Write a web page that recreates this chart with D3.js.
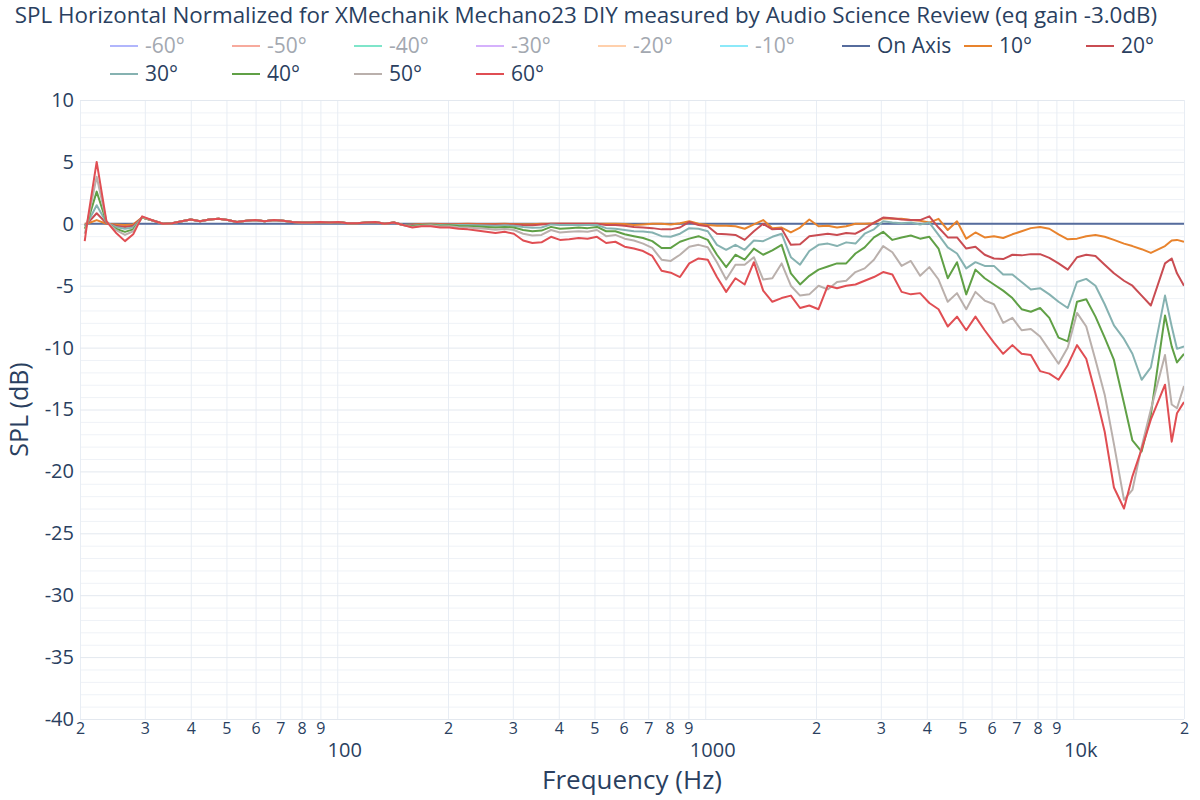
<!DOCTYPE html>
<html>
<head>
<meta charset="utf-8">
<script src="https://cdn.jsdelivr.net/npm/d3@7"></script>
<style>
  body { margin: 0; background: #fff; }
  text { font-family: "Open Sans", "DejaVu Sans", sans-serif; }
</style>
</head>
<body>
<div id="chart"></div>
<script>
// frequencies (Hz)
const freqs = [
  20.6, 20.9, 22.2, 23.6, 25.0, 26.5, 27.9, 29.5, 31.7, 33.6,
  35.6, 37.8, 40, 42.4, 44.9, 47.6, 50.4, 53.4, 56.6, 59.9,
  63.5, 67.3, 71.3, 75.5, 80, 84.8, 89.8, 95.1, 100.8, 106.8,
  113.1, 119.9, 127, 134.5, 142.5, 151, 160, 169.5, 179.6, 190.3,
  201.6, 213.6, 226.3, 239.7, 254, 269.1, 285.1, 302, 320, 339,
  359, 381, 403, 427, 453, 479, 508, 538, 570, 604,
  640, 678, 718, 761, 806, 854, 905, 959, 1016, 1076,
  1140, 1208, 1280, 1356, 1437, 1522, 1613, 1709, 1810, 1918,
  2032, 2153, 2281, 2416, 2560, 2712, 2874, 3044, 3225, 3417,
  3620, 3836, 4064, 4305, 4561, 4833, 5120, 5424, 5747, 6089,
  6451, 6834, 7241, 7671, 8127, 8611, 9123, 9665, 10240, 10849,
  11494, 12177, 12902, 13740, 14482, 15343, 16255, 17760, 18520, 19140,
  20000
];

const onAxis = [
  0, 0, 0, 0, 0, 0, 0, 0, 0, 0,
  0, 0, 0, 0, 0, 0, 0, 0, 0, 0,
  0, 0, 0, 0, 0, 0, 0, 0, 0, 0,
  0, 0, 0, 0, 0, 0, 0, 0, 0, 0,
  0, 0, 0, 0, 0, 0, 0, 0, 0, 0,
  0, 0, 0, 0, 0, 0, 0, 0, 0, 0,
  0, 0, 0, 0, 0, 0, 0, 0, 0, 0,
  0, 0, 0, 0, 0, 0, 0, 0, 0, 0,
  0, 0, 0, 0, 0, 0, 0, 0, 0, 0,
  0, 0, 0, 0, 0, 0, 0, 0, 0, 0,
  0, 0, 0, 0, 0, 0, 0, 0, 0, 0,
  0, 0, 0, 0, 0, 0, 0, 0, 0, 0,
  0
];

const deg10 = [
  0.0, 0.0, 0.3, 0.0, -0.05, -0.1, -0.05, 0.5, 0.25, 0.0,
  0.05, 0.2, 0.35, 0.2, 0.35, 0.4, 0.3, 0.15, 0.25, 0.3,
  0.2, 0.3, 0.25, 0.15, 0.1, 0.1, 0.15, 0.1, 0.15, 0.05,
  0.05, 0.1, 0.15, 0.0, 0.1, -0.1, -0.05, -0.02, 0.0, -0.02,
  -0.02, -0.02, 0.0, -0.02, -0.02, -0.02, 0.0, -0.02, -0.03, -0.03,
  0.0, 0.0, 0.0, 0.0, 0.0, 0.0, 0.0, 0.0, 0.0, -0.02,
  -0.1, -0.05, 0.0, 0.0, -0.05, 0.05, 0.2, 0.0, -0.1, -0.15,
  -0.15, -0.2, -0.4, -0.05, 0.3, -0.35, -0.3, -0.7, -0.3, 0.35,
  -0.2, -0.15, -0.3, -0.2, 0.0, 0.0, 0.05, 0.45, 0.4, 0.4,
  0.3, 0.25, 0.1, 0.4, -0.5, 0.2, -1.2, -0.7, -1.1, -1.0,
  -1.15, -0.85, -0.6, -0.35, -0.25, -0.4, -0.85, -1.25, -1.2, -1.0,
  -0.9, -1.05, -1.3, -1.6, -1.8, -2.05, -2.35, -1.8, -1.35, -1.3,
  -1.45
];

const deg20 = [
  -0.1, 0.0, 0.85, 0.05, -0.15, -0.25, -0.15, 0.5, 0.25, 0.0,
  0.05, 0.2, 0.35, 0.2, 0.35, 0.4, 0.3, 0.15, 0.25, 0.3,
  0.2, 0.3, 0.25, 0.15, 0.1, 0.1, 0.15, 0.1, 0.15, 0.05,
  0.05, 0.1, 0.15, 0.0, 0.1, -0.1, -0.1, -0.05, -0.03, -0.05,
  -0.04, -0.05, -0.05, -0.05, -0.06, -0.06, -0.05, -0.06, -0.1, -0.12,
  -0.05, 0.0, 0.0, 0.0, 0.0, 0.0, 0.0, -0.1, -0.1, -0.15,
  -0.25, -0.3, -0.35, -0.45, -0.45, -0.3, 0.15, -0.1, -0.2, -0.8,
  -0.85, -0.9, -1.3, -0.6, 0.0, -0.45, -0.4, -1.7, -1.65, -1.0,
  -0.9, -0.8, -0.9, -0.75, -0.8, -0.4, 0.1, 0.5, 0.45, 0.35,
  0.3, 0.3, 0.6, -0.3, -1.1, -1.1, -2.0, -1.85, -2.5, -2.8,
  -2.85, -2.5, -2.55, -2.45, -2.45, -2.75, -3.2, -3.7, -2.7, -2.5,
  -2.6, -3.3, -4.0, -4.6, -5.0, -5.8, -6.6, -3.2, -2.8, -4.0,
  -5.0
];

const deg30 = [
  -0.2, 0.0, 1.5, 0.1, -0.25, -0.4, -0.3, 0.5, 0.25, 0.0,
  0.05, 0.2, 0.35, 0.2, 0.35, 0.4, 0.3, 0.15, 0.25, 0.3,
  0.2, 0.3, 0.25, 0.15, 0.1, 0.1, 0.15, 0.1, 0.15, 0.05,
  0.05, 0.1, 0.15, 0.0, 0.1, -0.1, -0.15, -0.08, -0.05, -0.1,
  -0.08, -0.1, -0.1, -0.12, -0.14, -0.15, -0.12, -0.15, -0.25, -0.32,
  -0.3, -0.05, -0.1, -0.1, -0.1, -0.1, -0.1, -0.35, -0.4, -0.5,
  -0.6, -0.62, -0.7, -1.0, -1.05, -0.8, -0.35, -0.4, -0.6, -1.7,
  -2.1, -1.7, -2.1, -1.35, -1.4, -1.05, -0.8, -2.7, -3.3, -2.2,
  -1.7, -1.6, -1.8, -1.5, -1.6, -0.8, -0.45, 0.2, 0.1, 0.05,
  0.1, -0.05, 0.1, -0.9, -1.9, -2.4, -3.6, -3.1, -3.4, -3.4,
  -4.1, -4.1, -4.7, -5.3, -5.2, -5.7, -6.3, -6.8, -4.7, -4.45,
  -5.0, -6.5, -8.2, -9.3, -10.5, -12.6, -11.6, -5.8, -8.3, -10.1,
  -9.9
];

const deg40 = [
  -0.4, 0.0, 2.6, 0.15, -0.4, -0.65, -0.45, 0.5, 0.25, 0.0,
  0.05, 0.2, 0.35, 0.2, 0.35, 0.4, 0.3, 0.15, 0.25, 0.3,
  0.2, 0.3, 0.25, 0.15, 0.1, 0.1, 0.15, 0.1, 0.15, 0.05,
  0.05, 0.1, 0.15, 0.0, 0.1, -0.1, -0.2, -0.1, -0.08, -0.15,
  -0.12, -0.18, -0.2, -0.22, -0.25, -0.3, -0.25, -0.3, -0.5, -0.6,
  -0.55, -0.25, -0.4, -0.35, -0.3, -0.35, -0.25, -0.6, -0.6, -0.85,
  -1.0, -1.15, -1.4, -1.95, -1.95, -1.45, -1.2, -1.0, -1.3, -2.5,
  -3.5, -2.5, -2.9, -2.0, -2.5, -2.15, -1.7, -4.0, -4.9, -4.2,
  -3.7, -3.45, -3.2, -3.2, -2.4, -1.9, -1.1, -0.65, -1.3, -1.1,
  -0.95, -1.2, -1.05, -2.0, -4.4, -3.1, -5.7, -3.7, -4.4, -4.9,
  -5.4, -6.0, -6.9, -7.1, -6.8, -7.6, -9.2, -9.5, -6.3, -6.1,
  -7.5, -9.2, -11.0, -14.5, -17.5, -18.4, -15.4, -7.4, -9.9, -11.2,
  -10.5
];

const deg50 = [
  -0.8, 0.0, 3.8, 0.2, -0.5, -0.9, -0.6, 0.55, 0.25, 0.0,
  0.05, 0.2, 0.35, 0.2, 0.35, 0.4, 0.3, 0.15, 0.25, 0.3,
  0.2, 0.3, 0.25, 0.15, 0.1, 0.1, 0.15, 0.1, 0.15, 0.05,
  0.05, 0.1, 0.15, 0.0, 0.1, -0.1, -0.25, -0.15, -0.12, -0.22,
  -0.2, -0.28, -0.3, -0.35, -0.4, -0.48, -0.42, -0.5, -0.8, -0.95,
  -0.9, -0.5, -0.7, -0.65, -0.6, -0.65, -0.5, -1.0, -0.9, -1.2,
  -1.35, -1.6, -1.95, -2.9, -3.0, -2.5, -1.85, -1.7, -1.9, -3.1,
  -4.5, -3.3, -3.3, -2.7, -4.5, -4.4, -3.2, -5.0, -5.8, -5.7,
  -5.0, -5.3, -4.7, -4.6, -3.9, -3.6, -2.9, -1.8, -2.3, -3.4,
  -3.0, -4.2, -3.5, -4.5, -6.3, -5.6, -6.9, -5.5, -6.2, -6.5,
  -8.0, -7.6, -8.6, -8.5, -9.1, -10.2, -11.3, -10.0, -7.2, -8.3,
  -11.0, -13.8, -17.8, -22.3, -21.5, -18.0, -15.0, -10.6, -14.6, -14.9,
  -13.1
];

const deg60 = [
  -1.4, 0.0, 5.0, 0.2, -0.7, -1.4, -0.85, 0.6, 0.25, 0.0,
  0.05, 0.2, 0.35, 0.2, 0.35, 0.4, 0.3, 0.15, 0.25, 0.3,
  0.2, 0.3, 0.25, 0.15, 0.1, 0.1, 0.15, 0.1, 0.15, 0.05,
  0.05, 0.1, 0.15, 0.0, 0.1, -0.1, -0.3, -0.2, -0.2, -0.3,
  -0.3, -0.4, -0.45, -0.55, -0.65, -0.75, -0.65, -0.8, -1.35, -1.55,
  -1.5, -1.05, -1.3, -1.25, -1.15, -1.2, -1.05, -1.55, -1.45, -1.85,
  -2.0, -2.2, -2.6, -3.8, -3.95, -4.3, -3.2, -2.8, -2.9, -4.3,
  -5.5, -4.4, -4.9, -3.1, -5.4, -6.3, -6.0, -5.8, -6.8, -6.6,
  -6.9, -5.0, -5.2, -5.0, -4.9, -4.6, -4.3, -3.9, -4.1, -5.5,
  -5.7, -5.6, -6.4, -6.9, -8.3, -7.5, -8.6, -7.5, -8.6, -9.6,
  -10.5, -9.8, -10.5, -10.6, -11.9, -12.1, -12.6, -11.4, -9.8, -10.9,
  -13.7, -16.8, -21.3, -23.0, -20.4, -18.2, -15.8, -13.0, -17.6, -15.3,
  -14.4
];

const seriesNames = ["On Axis", "10°", "20°", "30°", "40°", "50°", "60°"];
const seriesValues = [onAxis, deg10, deg20, deg30, deg40, deg50, deg60];
const seriesColors = ["#566c9d", "#e8832d", "#c94c52", "#86b2b1", "#60a046", "#bab0ac", "#e04e53"];

// hidden traces (legend only)
const hiddenNames = ["-60°", "-50°", "-40°", "-30°", "-20°", "-10°"];
const hiddenColors = ["#b1b6fc", "#f7aa9d", "#7fe5ca", "#d5b1fc", "#ffd0ac", "#8ce9f9"];

const yTicks = [10, 5, 0, -5, -10, -15, -20, -25, -30, -35, -40];
const xTicks = [20, 30, 40, 50, 60, 70, 80, 90,
  100, 200, 300, 400, 500, 600, 700, 800, 900,
  1000, 2000, 3000, 4000, 5000, 6000, 7000, 8000, 9000,
  10000, 20000];

const title = "SPL Horizontal Normalized for XMechanik Mechano23 DIY measured by Audio Science Review (eq gain -3.0dB)";

const width = 1200, height = 800;
const margin = {top: 100, right: 16, bottom: 81, left: 80};
const plotW = width - margin.left - margin.right;
const plotH = height - margin.top - margin.bottom;
const textColor = "#2a3f5f";

const svg = d3.select("#chart").append("svg")
  .attr("width", width)
  .attr("height", height)
  .style("background", "#fff");

const x = d3.scaleLog().domain([20, 20000]).range([0, plotW]);
const y = d3.scaleLinear().domain([-40, 10]).range([plotH, 0]);

const g = svg.append("g")
  .attr("transform", `translate(${margin.left},${margin.top})`);

// minor y grid (every 1 dB)
g.append("g")
  .call(d3.axisLeft(y).tickValues(d3.range(-40, 11, 1).filter(v => v % 5 !== 0)).tickSize(-plotW).tickFormat(""))
  .call(a => a.select(".domain").remove())
  .selectAll("line").attr("stroke", "#eff2f7");

// x grid
g.append("g")
  .attr("transform", `translate(0,${plotH})`)
  .call(d3.axisBottom(x).tickValues(xTicks).tickSize(-plotH).tickFormat(""))
  .call(a => a.select(".domain").remove())
  .selectAll("line").attr("stroke", "#e8edf4");

// major y grid
g.append("g")
  .call(d3.axisLeft(y).tickValues(yTicks).tickSize(-plotW).tickFormat(""))
  .call(a => a.select(".domain").remove())
  .selectAll("line").attr("stroke", "#e3e8ef");

// y labels
g.append("g")
  .call(d3.axisLeft(y).tickValues(yTicks).tickSize(0).tickPadding(6).tickFormat(d => String(d)))
  .call(a => a.select(".domain").remove())
  .selectAll("text")
    .attr("fill", textColor)
    .style("font-size", "20px");

// x labels
const isMajor = v => Math.abs(Math.log10(v) - Math.round(Math.log10(v))) < 1e-9;
g.append("g")
  .attr("transform", `translate(0,${plotH})`)
  .call(d3.axisBottom(x).tickValues(xTicks).tickSize(0).tickPadding(4)
    .tickFormat(v => isMajor(v) ? (v >= 10000 ? (v / 1000) + "k" : String(v)) : String(Math.round(v / Math.pow(10, Math.floor(Math.log10(v)))))))
  .call(a => a.select(".domain").remove())
  .selectAll("text")
    .attr("fill", textColor)
    .style("font-size", d => isMajor(d) ? "20px" : "16px")
    .attr("dx", d => isMajor(d) ? 7 : 0)
    .attr("dy", d => isMajor(d) ? "1.7em" : "0.71em");

// lines
g.append("clipPath").attr("id", "clip")
  .append("rect").attr("width", plotW).attr("height", plotH);

const line = d3.line()
  .x((d, i) => x(freqs[i]))
  .y(d => y(d));

g.append("g").attr("clip-path", "url(#clip)")
  .selectAll("path")
  .data(seriesValues)
  .join("path")
    .attr("d", line)
    .attr("fill", "none")
    .attr("stroke", (d, i) => seriesColors[i])
    .attr("stroke-width", 2)
    .attr("stroke-linejoin", "round");

// axis titles
svg.append("text")
  .attr("x", margin.left + plotW / 2)
  .attr("y", 789)
  .attr("text-anchor", "middle")
  .attr("fill", textColor)
  .style("font-size", "26px")
  .text("Frequency (Hz)");

svg.append("text")
  .attr("transform", `translate(28,${margin.top + plotH / 2}) rotate(-90)`)
  .attr("text-anchor", "middle")
  .attr("fill", textColor)
  .style("font-size", "25px")
  .text("SPL (dB)");

// title
svg.append("text")
  .attr("x", 586)
  .attr("y", 23)
  .attr("text-anchor", "middle")
  .attr("fill", textColor)
  .style("font-size", "22.4px")
  .text(title);

// legend
const legendItems = hiddenNames.map((n, i) => ({name: n, color: hiddenColors[i], hidden: true}))
  .concat(seriesNames.map((n, i) => ({name: n, color: seriesColors[i], hidden: false})));

const legend = svg.append("g");
const item = legend.selectAll("g")
  .data(legendItems)
  .join("g")
    .attr("transform", (d, i) => `translate(${108 + (i % 9) * 122},${46 + Math.floor(i / 9) * 28})`);

item.append("line")
  .attr("x1", 2).attr("x2", 30)
  .attr("stroke", d => d.color)
  .attr("stroke-width", 2);

item.append("text")
  .attr("x", 37)
  .attr("dy", "0.35em")
  .attr("fill", d => d.hidden ? "#a3a8b0" : textColor)
  .style("font-size", "21px")
  .text(d => d.name);
</script>
</body>
</html>
